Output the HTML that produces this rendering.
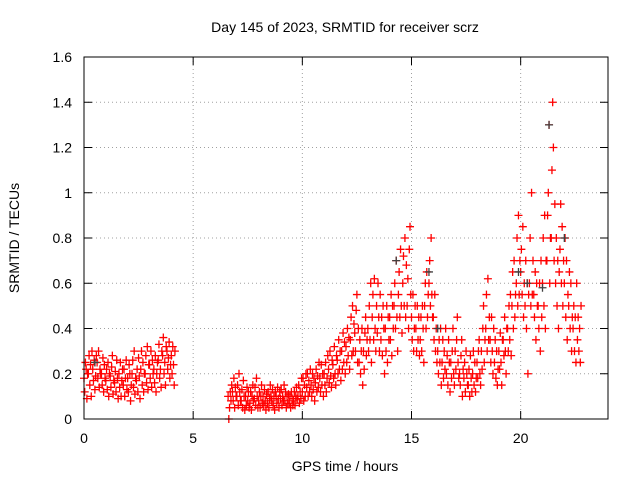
<!DOCTYPE html>
<html><head><meta charset="utf-8"><style>
body{margin:0;background:#fff}
svg{display:block;font-family:"Liberation Sans",sans-serif;font-size:14px}
</style></head><body>
<svg id="c" width="640" height="480"></svg>
<script>
const xTicks=[0,5,10,15,20];
const yTicks=[0,0.2,0.4,0.6,0.8,1,1.2,1.4,1.6];
const yTickLabels=["0","0.2","0.4","0.6","0.8","1","1.2","1.4","1.6"];
const rowTimes=[0,0.2,0.4,0.6,0.8,1,1.2,1.4,1.6,1.8,2,2.2,2.4,2.6,2.8,3,3.2,3.4,3.6,3.8,4,
6.6,6.8,7,7.2,7.4,7.6,7.8,8,8.2,8.4,8.6,8.8,9,9.2,9.4,9.6,9.8,
10,10.2,10.4,10.6,10.8,11,11.2,11.4,11.6,11.8,12,12.2,12.4,12.6,12.8,13,13.2,13.4,13.6,13.8,
14,14.2,14.4,14.6,14.8,15,15.2,15.4,15.6,15.8,16,16.2,16.4,16.6,16.8,17,17.2,17.4,17.6,17.8,
18,18.2,18.4,18.6,18.8,19,19.2,19.4,19.6,19.8,20,20.2,20.4,20.6,20.8,21,21.2,21.4,21.6,21.8,
22,22.2,22.4,22.6];
const rowValues=[
[.18,.12,.25,.22,.09,.2],[.2,.28,.15,.24,.1,.3],[.22,.17,.26,.13,.19,.28],[.25,.18,.3,.14,.22,.2],
[.2,.15,.27,.12,.24,.18],[.17,.22,.13,.25,.1,.2],[.19,.14,.23,.28,.11,.17],[.16,.21,.12,.26,.18,.09],
[.2,.14,.25,.1,.17,.22],[.15,.22,.1,.18,.26,.13],[.18,.12,.24,.2,.08,.15],[.2,.26,.14,.3,.11,.18],
[.17,.22,.12,.27,.19,.09],[.22,.3,.15,.25,.12,.2],[.2,.28,.16,.32,.13,.24],[.24,.18,.3,.14,.26,.2],
[.22,.16,.28,.12,.2,.25],[.26,.33,.18,.22,.14,.3],[.28,.36,.2,.25,.15,.32],[.3,.22,.27,.34,.18,.24],
[.28,.2,.32,.24,.15,.3],
[.1,0,.05,.12,.08,.15],[.12,.08,.18,.05,.14,.1],[.1,.15,.06,.2,.12,.08],[.08,.13,.05,.17,.1,.04],
[.1,.06,.14,.08,.12,.05],[.07,.12,.04,.1,.15,.08],[.09,.14,.06,.18,.1,.05],[.08,.12,.05,.1,.15,.07],
[.1,.06,.13,.08,.04,.11],[.07,.12,.05,.09,.15,.1],[.08,.13,.06,.1,.04,.12],[.1,.07,.14,.09,.05,.12],
[.09,.13,.06,.1,.08,.15],[.08,.12,.05,.1,.07,.11],[.07,.1,.05,.12,.09,.06],[.08,.12,.06,.1,.14,.09],
[.1,.15,.07,.12,.09,.18],
[.12,.18,.08,.15,.1,.2],[.14,.2,.1,.17,.12,.22],[.15,.1,.2,.13,.18,.08],[.16,.22,.12,.19,.14,.25],
[.18,.12,.24,.15,.2,.1],[.2,.15,.25,.12,.18,.28],[.22,.16,.3,.19,.14,.26],[.24,.18,.32,.2,.15,.28],
[.26,.2,.35,.22,.3,.17],[.3,.22,.38,.25,.34,.2],[.32,.25,.4,.28,.36,.22],[.35,.45,.28,.5,.3,.42],
[.38,.3,.48,.55,.25,.4],[.25,.35,.2,.3,.4,.15],[.3,.22,.38,.45,.28,.35],[.4,.3,.5,.35,.6,.25],
[.45,.55,.35,.62,.4,.3],[.5,.38,.6,.45,.3,.55],[.35,.45,.28,.5,.4,.2],[.4,.3,.5,.25,.45,.35],
[.45,.35,.55,.28,.5,.4],[.5,.6,.4,.7,.45,.3],[.55,.65,.45,.75,.5,.38],[.6,.72,.5,.8,.45,.68],
[.5,.62,.4,.75,.85,.55],[.45,.35,.55,.3,.4,.5],[.4,.3,.5,.35,.45,.28],[.35,.45,.3,.5,.4,.25],
[.5,.6,.4,.65,.45,.55],[.6,.7,.5,.8,.55,.45],[.45,.35,.55,.3,.4,.25],[.3,.2,.35,.25,.4,.15],
[.25,.35,.18,.3,.22,.4],[.2,.28,.15,.35,.25,.12],[.25,.18,.3,.4,.2,.15],[.3,.22,.35,.45,.25,.18],
[.2,.15,.28,.35,.1,.22],[.18,.25,.12,.3,.2,.15],[.15,.22,.1,.28,.18,.12],[.2,.3,.15,.25,.12,.18],
[.25,.18,.3,.35,.2,.15],[.3,.22,.4,.5,.25,.35],[.4,.55,.3,.62,.35,.45],[.35,.25,.45,.3,.2,.4],
[.25,.35,.18,.3,.15,.22],[.3,.22,.38,.25,.15,.35],[.35,.28,.45,.3,.2,.4],[.4,.3,.5,.35,.55,.28],
[.5,.65,.4,.7,.45,.55],[.6,.8,.5,.9,.55,.7],[.65,.75,.55,.85,.45,.6],[.5,.7,.4,.6,.2,.55],
[.6,.8,.5,1.0,.55,.7],[.55,.45,.65,.35,.6,.5],[.5,.4,.6,.3,.7,.45],[.6,.8,.5,.9,.4,.7],
[.7,.9,1.0,1.3,.6,.8],[.8,1.1,1.4,1.2,.7,.95],[.6,.8,.5,.7,.4,.65],[.75,.95,.6,.85,.5,.7],
[.6,.8,.45,.7,.35,.55],[.5,.65,.4,.6,.3,.45],[.4,.5,.3,.45,.25,.6],[.35,.45,.3,.4,.25,.5]];
const grayTimes=[0.5,14.3,15.8,16.2,19.9,20.3,21,21.3,22];
const grayValues=[0.25,0.7,0.65,0.4,0.65,0.6,0.58,1.3,0.8];

const L=84,R=608,T=57,B=419,NS="http://www.w3.org/2000/svg";
const xs=v=>L+(v/24)*(R-L), ys=v=>B-(v/1.6)*(B-T);
const svg=document.getElementById('c');
function mk(t,a,p){const e=document.createElementNS(NS,t);for(const k in a)e.setAttribute(k,a[k]);(p||svg).appendChild(e);return e;}
const grid=mk('g',{});


xTicks.forEach(t=>{const x=xs(t);
 if(t>0)mk('line',{x1:x,y1:T,x2:x,y2:B,stroke:'#a0a0a0','stroke-dasharray':'1,3'},grid);
 mk('line',{x1:x,y1:B,x2:x,y2:B-8,stroke:'#000'});mk('line',{x1:x,y1:T,x2:x,y2:T+8,stroke:'#000'});
 const tx=mk('text',{x:x,y:B+24,'text-anchor':'middle'});tx.textContent=t;
 
 });
yTicks.forEach((t,i)=>{const y=ys(t);
 if(i>0&&i<yTicks.length-1)mk('line',{x1:L,y1:y,x2:R,y2:y,stroke:'#a0a0a0','stroke-dasharray':'1,3'},grid);
 mk('line',{x1:L,y1:y,x2:L+8,y2:y,stroke:'#000'});mk('line',{x1:R,y1:y,x2:R-8,y2:y,stroke:'#000'});
 const tx=mk('text',{x:L-12,y:y+5,'text-anchor':'end'});tx.textContent=yTickLabels[i];
 
 });
function plus(g,t,v,c){const x=xs(t),y=ys(v);
 mk('path',{d:`M${x-4},${y}H${x+4}M${x},${y-4}V${y+4}`,stroke:c,'stroke-width':1.3,fill:'none'},g);}
const red=mk('g',{});


const gray=mk('g',{});


grayTimes.forEach((t,i)=>plus(gray,t,grayValues[i],'#404040'));
rowTimes.forEach((t,i)=>rowValues[i].forEach((v,k)=>plus(red,t+k*0.033,v,'#ff0000')));
const fr=mk('rect',{x:L,y:T,width:R-L,height:B-T,fill:'none',stroke:'#000'});


const ti=mk('text',{x:345,y:32,'text-anchor':'middle'});ti.textContent='Day 145 of 2023, SRMTID for receiver scrz';


const xl=mk('text',{x:345,y:471,'text-anchor':'middle'});xl.textContent='GPS time / hours';


const yl=mk('text',{x:0,y:0,'text-anchor':'middle',transform:'translate(19,238) rotate(-90)'});yl.textContent='SRMTID / TECUs';


</script>
</body></html>
